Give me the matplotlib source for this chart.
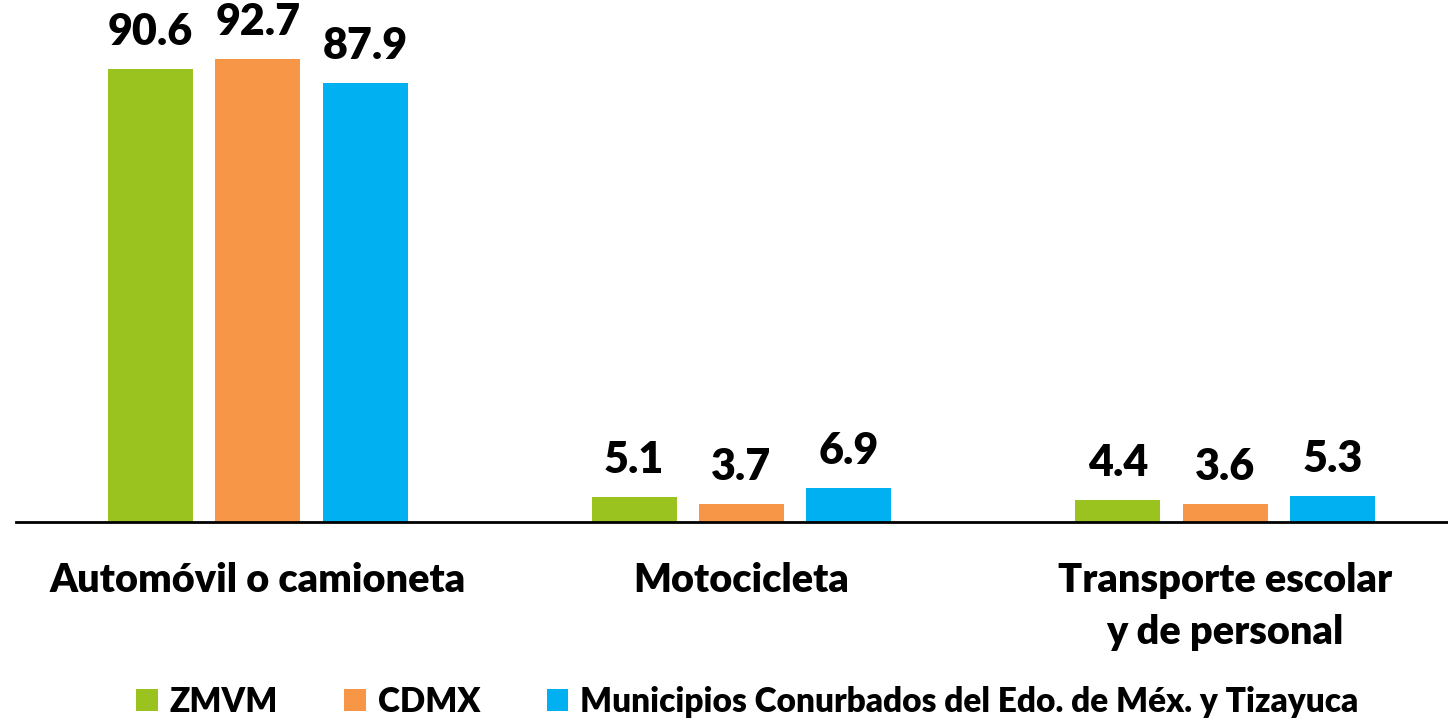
#!/usr/bin/env python3
# -*- coding: utf-8 -*-
"""
Grouped bar chart: vehicle type by zone (percentages).
"""

import matplotlib
matplotlib.use('Agg')
import matplotlib.pyplot as plt
import numpy as np

categories = ['Automóvil o camioneta', 'Motocicleta',
              'Transporte escolar\ny de personal']
series_names = ['ZMVM', 'CDMX',
                'Municipios Conurbados del Edo. de Méx. y Tizayuca']
zmvm = [90.6, 5.1, 4.4]
cdmx = [92.7, 3.7, 3.6]
conurbados = [87.9, 6.9, 5.3]
colors = ['#9BC31F', '#F79646', '#00B0F0']

plt.rcParams['font.family'] = ['Lato', 'DejaVu Sans']
weight = 'heavy'

figure = plt.figure(figsize=(14.48, 7.21), dpi=100)
# axes spans from x=16px to beyond right edge, baseline at y=522px
axes = figure.add_axes([16 / 1448, 199 / 721, 1451 / 1448, 522 / 721])

x = np.arange(len(categories))
width = 0.176
offset = 0.222
for i, (values, name) in enumerate(zip([zmvm, cdmx, conurbados],
                                       series_names)):
    bars = axes.bar(x + (i - 1) * offset, values, width,
                    color=colors[i], label=name)
    axes.bar_label(bars, labels=['%.1f' % v for v in values],
                   padding=12, fontsize=31, fontweight=weight)

axes.set_xlim(-0.5, 2.5)
axes.set_ylim(0, 104.4)
axes.set_xticks(x)
axes.set_xticklabels(categories, fontsize=28.5, fontweight=weight,
                     linespacing=1.5, va='top')
axes.tick_params(axis='x', length=0, pad=29)
axes.set_yticks([])
for side in ['top', 'right', 'left']:
    axes.spines[side].set_visible(False)
axes.spines['bottom'].set_linewidth(2)
axes.patch.set_alpha(0)

handles, labels = axes.get_legend_handles_labels()
figure.legend(handles, labels, loc='center', bbox_to_anchor=(0.516, 0.027),
              ncol=3, frameon=False, handlelength=0.65,
              handleheight=0.65, handletextpad=0.35, columnspacing=2.0,
              prop={'weight': weight, 'size': 24})

figure.savefig('out.png', dpi=100)
plt.close()
